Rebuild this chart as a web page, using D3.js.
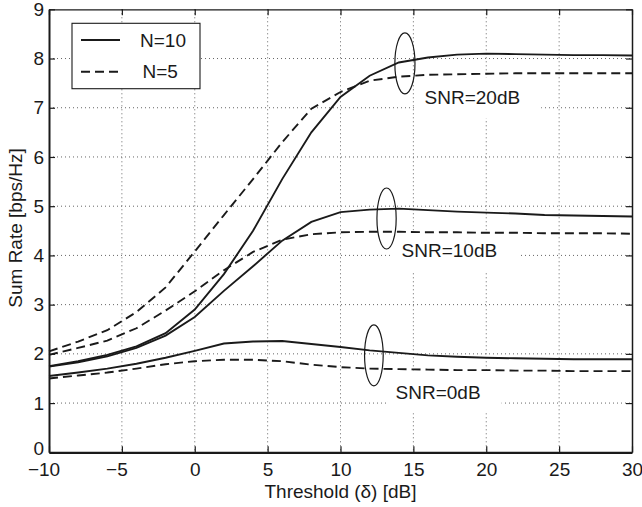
<!DOCTYPE html>
<html>
<head>
<meta charset="utf-8">
<script src="https://cdn.jsdelivr.net/npm/d3@7"></script>
<style>
  html, body { margin: 0; padding: 0; background: #fff; }
  svg { display: block; font-family: "Liberation Sans", Arial, sans-serif; }
</style>
</head>
<body>
<svg id="chart" width="642" height="507"></svg>
<script>
// Threshold values (dB) at which the sum rate was evaluated
const thresholds = [-10, -8, -6, -4, -2, 0, 2, 4, 6, 8, 10, 12, 14, 16, 18, 20, 22, 24, 26, 28, 30];

// Sum rate [bps/Hz] per SNR and number of users N
const snr20N10 = [1.75, 1.85, 1.98, 2.15, 2.42, 2.9, 3.62, 4.5, 5.55, 6.5, 7.22, 7.65, 7.92, 8.02, 8.08, 8.1, 8.09, 8.08, 8.07, 8.07, 8.06];
const snr20N5  = [2.05, 2.25, 2.48, 2.85, 3.35, 4.08, 4.82, 5.55, 6.3, 6.98, 7.32, 7.55, 7.63, 7.67, 7.68, 7.69, 7.7, 7.7, 7.7, 7.7, 7.7];
const snr10N10 = [1.74, 1.83, 1.95, 2.12, 2.37, 2.75, 3.28, 3.78, 4.3, 4.68, 4.88, 4.93, 4.95, 4.92, 4.89, 4.87, 4.85, 4.82, 4.81, 4.8, 4.79];
const snr10N5  = [1.98, 2.12, 2.27, 2.52, 2.88, 3.27, 3.7, 4.07, 4.32, 4.43, 4.47, 4.48, 4.48, 4.47, 4.47, 4.46, 4.46, 4.45, 4.45, 4.45, 4.44];
const snr0N10  = [1.55, 1.62, 1.7, 1.8, 1.92, 2.06, 2.21, 2.25, 2.26, 2.2, 2.14, 2.07, 2.02, 1.97, 1.94, 1.92, 1.91, 1.9, 1.89, 1.89, 1.89];
const snr0N5   = [1.5, 1.56, 1.62, 1.7, 1.79, 1.85, 1.88, 1.88, 1.85, 1.78, 1.73, 1.7, 1.69, 1.68, 1.67, 1.67, 1.66, 1.66, 1.65, 1.65, 1.65];

const xTicks = [-10, -5, 0, 5, 10, 15, 20, 25, 30];
const yTicks = [0, 1, 2, 3, 4, 5, 6, 7, 8, 9];

const legendLabels = ["N=10", "N=5"];
const snrLabels = ["SNR=20dB", "SNR=10dB", "SNR=0dB"];

// Series list: values with the user count they belong to
const series = [
  { values: snr20N10, n: 10 },
  { values: snr20N5,  n: 5 },
  { values: snr10N10, n: 10 },
  { values: snr10N5,  n: 5 },
  { values: snr0N10,  n: 10 },
  { values: snr0N5,   n: 5 }
];

// Ellipses grouping each SNR pair (centre in data units, radii in data units)
const groupMarks = [
  { cx: 14.42, cy: 7.9,  rx: 0.69, ry: 0.62 },
  { cx: 13.16, cy: 4.75, rx: 0.66, ry: 0.62 },
  { cx: 12.29, cy: 1.97, rx: 0.64, ry: 0.62 }
];
// Text anchors (left edge, baseline) in data units
const labelAnchors = [
  { x: 15.77, y: 7.07 },
  { x: 14.19, y: 3.96 },
  { x: 13.78, y: 1.08 }
];

const W = 642, H = 507;
const margin = { left: 49, right: 10, top: 9.3, bottom: 54.7 };
const svg = d3.select("#chart");

const x = d3.scaleLinear().domain([-10, 30]).range([margin.left, W - margin.right]);
const y = d3.scaleLinear().domain([0, 9]).range([H - margin.bottom, margin.top]);

const FS = 19;
const ink = "#1a1a1a";

// Dotted grid
const grid = svg.append("g").attr("stroke", "#555").attr("stroke-width", 0.9)
  .attr("stroke-dasharray", "1,3");
grid.selectAll("line.gx").data(xTicks.slice(1, -1)).join("line")
  .attr("x1", d => x(d)).attr("x2", d => x(d))
  .attr("y1", y(9)).attr("y2", y(0));
grid.selectAll("line.gy").data(yTicks.slice(1, -1)).join("line")
  .attr("x1", x(-10)).attr("x2", x(30))
  .attr("y1", d => y(d)).attr("y2", d => y(d));

// Label backgrounds and labels
const labels = svg.append("g");
labelAnchors.forEach((a, i) => {
  const t = labels.append("text")
    .attr("x", x(a.x)).attr("y", y(a.y))
    .attr("font-size", FS).attr("fill", ink)
    .text(snrLabels[i]);
  const bb = t.node().getBBox();
  labels.insert("rect", "text")
    .attr("x", bb.x - 9).attr("y", y(a.y) - 27)
    .attr("width", bb.width + 30).attr("height", 41)
    .attr("fill", "#fff");
});

// Curves
const line = d3.line()
  .x((d, i) => x(thresholds[i]))
  .y(d => y(d));
svg.append("g").selectAll("path").data(series).join("path")
  .attr("d", d => line(d.values))
  .attr("fill", "none")
  .attr("stroke", ink)
  .attr("stroke-width", 1.9)
  .attr("stroke-dasharray", d => d.n === 5 ? "9,5" : null);

// Grouping ellipses
svg.append("g").selectAll("ellipse").data(groupMarks).join("ellipse")
  .attr("cx", d => x(d.cx)).attr("cy", d => y(d.cy))
  .attr("rx", d => x(d.cx + d.rx) - x(d.cx))
  .attr("ry", d => y(d.cy - d.ry) - y(d.cy))
  .attr("fill", "none").attr("stroke", ink).attr("stroke-width", 1.2);

// Axes with inward ticks
const tickLen = 6;
const gx = svg.append("g").attr("transform", `translate(0,${y(0)})`)
  .call(d3.axisBottom(x).tickValues(xTicks).tickSizeInner(-tickLen).tickSizeOuter(0).tickPadding(10.2));
const gy = svg.append("g").attr("transform", `translate(${x(-10)},0)`)
  .call(d3.axisLeft(y).tickValues(yTicks).tickSizeInner(-tickLen).tickSizeOuter(0).tickPadding(5));
const gt = svg.append("g").attr("transform", `translate(0,${y(9)})`)
  .call(d3.axisTop(x).tickValues(xTicks).tickSizeInner(-tickLen).tickSizeOuter(0).tickFormat(""));
const gr = svg.append("g").attr("transform", `translate(${x(30)},0)`)
  .call(d3.axisRight(y).tickValues(yTicks).tickSizeInner(-tickLen).tickSizeOuter(0).tickFormat(""));

[gx, gy, gt, gr].forEach(g => {
  g.selectAll("text").attr("font-size", FS).attr("fill", ink)
    .attr("font-family", "'Liberation Sans', Arial, sans-serif");
  g.selectAll("line").attr("stroke", ink).attr("stroke-width", 1.2);
});
// Negative labels sit with the digits centred under the tick
gx.selectAll(".tick text").attr("dx", d => d < 0 ? -5.5 : 0);
// The zero label is lifted a little to clear the corner label below it
gy.selectAll(".tick text").attr("dy", d => d === 0 ? "0.1em" : "0.32em");
gx.select(".domain").attr("stroke", ink).attr("stroke-width", 2.2);
gy.select(".domain").attr("stroke", ink).attr("stroke-width", 2);
gt.select(".domain").attr("stroke", ink).attr("stroke-width", 1.3);
gr.select(".domain").attr("stroke", ink).attr("stroke-width", 1.5);

// Axis titles
svg.append("text")
  .attr("x", (x(-10) + x(30)) / 2).attr("y", 498)
  .attr("text-anchor", "middle").attr("font-size", FS).attr("fill", ink)
  .text("Threshold (δ) [dB]");
svg.append("text")
  .attr("transform", `translate(22,228) rotate(-90)`)
  .attr("text-anchor", "middle").attr("font-size", FS).attr("fill", ink)
  .text("Sum Rate [bps/Hz]");

// Legend
const legend = svg.append("g");
legend.append("rect")
  .attr("x", 72).attr("y", 23.3).attr("width", 128).attr("height", 65.4)
  .attr("fill", "#fff").attr("stroke", ink).attr("stroke-width", 1.1);
const legendRows = [{ n: 10, yy: 40 }, { n: 5, yy: 71.7 }];
legendRows.forEach((r, i) => {
  legend.append("line")
    .attr("x1", 81).attr("x2", 120).attr("y1", r.yy).attr("y2", r.yy)
    .attr("stroke", ink).attr("stroke-width", 1.9)
    .attr("stroke-dasharray", r.n === 5 ? "9,5" : null);
  legend.append("text")
    .attr("x", i === 0 ? 140 : 142.5).attr("y", r.yy + 6.5)
    .attr("font-size", FS).attr("fill", ink)
    .text(legendLabels[i]);
});
</script>
</body>
</html>
